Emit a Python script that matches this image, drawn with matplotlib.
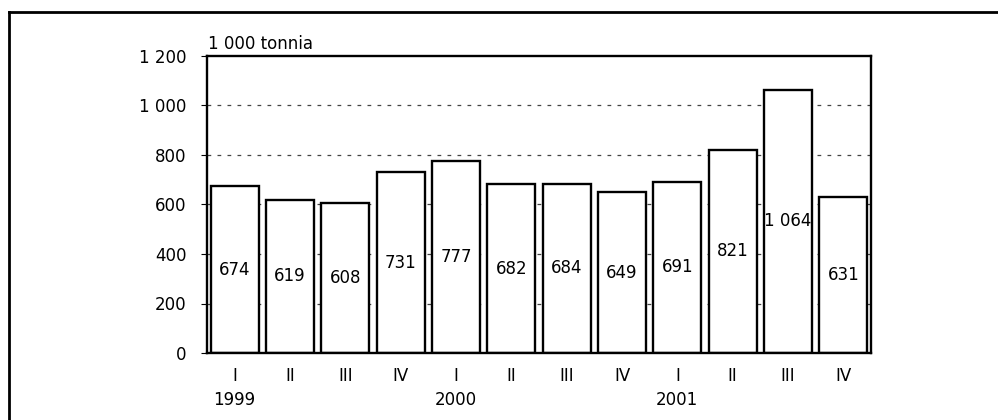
import matplotlib
matplotlib.use("Agg")
import matplotlib.pyplot as plt
from matplotlib.lines import Line2D
from matplotlib.transforms import blended_transform_factory

quarters = ["I", "II", "III", "IV", "I", "II", "III", "IV", "I", "II", "III", "IV"]
years = ["1999", "2000", "2001"]
year_positions = [0, 4, 8]
values = [674, 619, 608, 731, 777, 682, 684, 649, 691, 821, 1064, 631]
yticks = [0, 200, 400, 600, 800, 1000, 1200]
unit_label = "1 000 tonnia"

def fmt(v):
    return f"{v:,}".replace(",", " ")

plt.rcParams['font.family'] = ['DejaVu Sans']
FS = 12

fig = plt.figure(figsize=(9.98, 4.2), dpi=100)
ax = fig.add_axes([207/998, 67/420, 664/998, 297/420])

x = list(range(len(values)))
ax.set_axisbelow(True)
for yv in yticks[1:-1]:
    ax.axhline(yv, color="#444444", lw=0.9, ls=(0, (3, 5)), zorder=0)
bars = ax.bar(x, values, width=0.87, color="white", edgecolor="black", linewidth=1.7, zorder=2)
ax.bar_label(bars, labels=[fmt(v) for v in values], label_type="center", fontsize=FS, zorder=3)

ax.set_xlim(-0.5, len(values) - 0.5)
ax.set_ylim(0, 1200)
ax.set_yticks(yticks)
ax.set_yticklabels([fmt(v) for v in yticks], fontsize=FS)
ax.set_xticks(x)
ax.set_xticklabels(quarters, fontsize=FS)
ax.tick_params(axis="x", length=0, pad=10)
ax.tick_params(axis="y", length=4.5, width=0.8, pad=10)
for s in ax.spines.values():
    s.set_linewidth(1.7)

tr = blended_transform_factory(ax.transData, ax.transAxes)
for yr, pos in zip(years, year_positions):
    ax.text(pos, -0.158, yr, transform=tr, ha="center", va="center", fontsize=FS)

ax.text(0.002, 1.01, unit_label, transform=ax.transAxes, ha="left", va="bottom", fontsize=FS)

# outer frame (cut off at right and bottom)
fig.add_artist(Line2D([9/998, 9/998], [0, 1 - 12/420], transform=fig.transFigure, color="black", lw=2))
fig.add_artist(Line2D([9/998, 1], [1 - 12/420, 1 - 12/420], transform=fig.transFigure, color="black", lw=2))

fig.savefig("out.png", dpi=100)
